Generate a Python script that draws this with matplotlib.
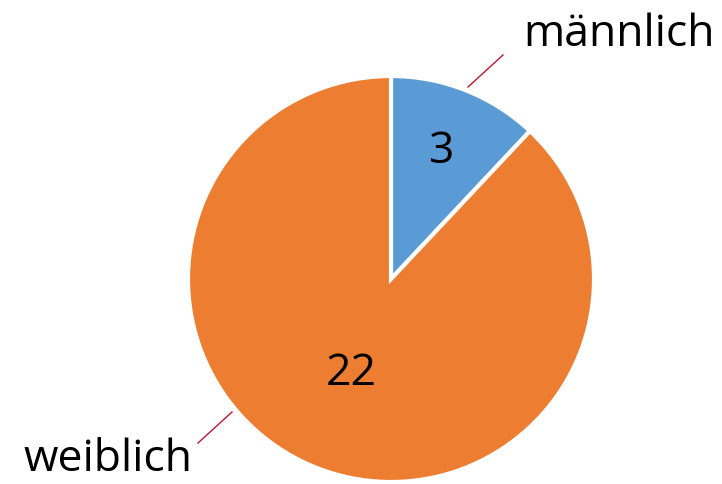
import matplotlib
matplotlib.use("Agg")
import matplotlib.pyplot as plt
from matplotlib.lines import Line2D

categories = ["männlich", "weiblich"]
values = [3, 22]
colors = ["#5B9BD5", "#ED7D31"]

W, H = 722, 485
fig = plt.figure(figsize=(W / 100, H / 100), dpi=100)
fig.patch.set_facecolor("white")

cx, cy, r = 391, 280, 203
ax = fig.add_axes([(cx - r) / W, (H - cy - r) / H, 2 * r / W, 2 * r / H])
ax.pie(values, colors=colors, startangle=90, counterclock=False,
       wedgeprops=dict(edgecolor="white", linewidth=3))
ax.set_aspect("equal")
ax.set_xlim(-1, 1)
ax.set_ylim(-1, 1)
ax.axis("off")

font = "Open Sans"
fs = 32

def px(x, y):
    return x / W, 1 - y / H

# value labels inside wedges
fig.text(*px(442, 163), str(values[0]), ha="center", va="baseline", fontsize=fs, family=font, color="black")
fig.text(*px(351, 385), str(values[1]), ha="center", va="baseline", fontsize=fs, family=font, color="black")

# category labels
fig.text(*px(619, 46), categories[0], ha="center", va="baseline", fontsize=fs, family=font, color="black")
fig.text(*px(108, 471), categories[1], ha="center", va="baseline", fontsize=fs, family=font, color="black")

# leader lines
lc = "#C0152F"
for (x0, y0, x1, y1) in [(468, 88, 503, 56), (198, 444, 232, 413)]:
    a = px(x0, y0); b = px(x1, y1)
    fig.add_artist(Line2D([a[0], b[0]], [a[1], b[1]], color=lc, linewidth=1, transform=fig.transFigure))

fig.savefig("out.png", dpi=100, facecolor="white")
